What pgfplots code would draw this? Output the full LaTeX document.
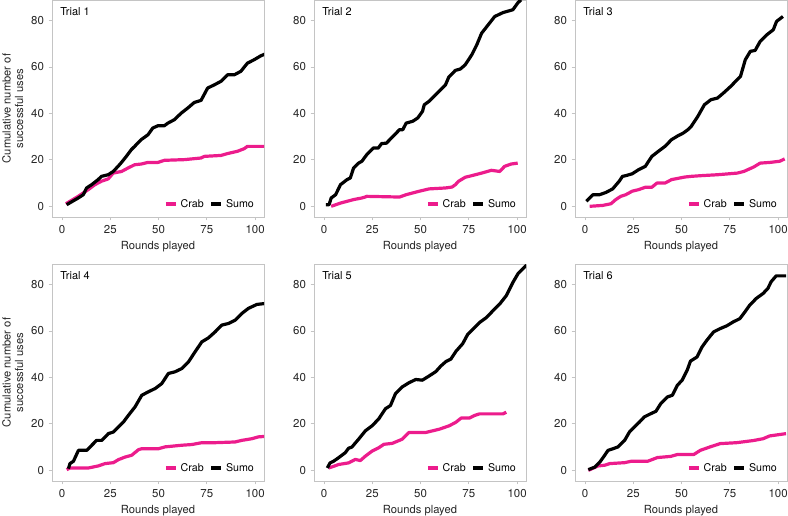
\documentclass[border=0pt]{standalone}
\usepackage{fontspec}
\setmainfont{TeX Gyre Heros}
\usepackage{pgfplots}
\pgfplotsset{compat=1.18}
\definecolor{crab}{HTML}{EC1C8C}
\definecolor{framegray}{HTML}{C4C4C4}

\pgfplotsset{
  panel/.style={
    scale only axis, width=159pt, height=162.75pt,
    xmin=-5.2, xmax=104.6, ymin=-4.6, ymax=88.8,
    xtick={0,25,50,75,100}, ytick={0,20,40,60,80},
    axis line style={framegray, line width=0.6pt},
    tick style={framegray, line width=0.6pt},
    tick align=outside, major tick length=2.5pt,
    xtick pos=bottom, ytick pos=left,
    ticklabel style={font=\fontsize{8.6}{10}\selectfont, text=black!85},
    /pgf/number format/assume math mode=true,
    xlabel={Rounds played},
    xlabel style={font=\fontsize{8.4}{10}\selectfont, text=black!85, yshift=1pt},
    legend style={draw=none, fill=none, at={(rel axis cs:0.985,0.01)}, anchor=south east,
      font=\fontsize{8}{9}\selectfont, legend columns=2,
      /tikz/every even column/.append style={column sep=2pt}},
    legend image code/.code={\draw[#1, line width=3.2pt] (0pt,0pt) -- (7.5pt,0pt);},
    every axis plot/.append style={line width=2.4pt, line join=round, no markers},
  },
  leftpanel/.style={
    ylabel={Cumulative number of\\successful uses},
    ylabel style={align=center, font=\fontsize{8.4}{9.4}\selectfont, text=black!85, yshift=-1pt},
  },
}
\newcommand{\trial}[1]{\node[anchor=north west, inner sep=0pt, font=\fontsize{8.2}{9}\selectfont]
  at (rel axis cs:0,1) [xshift=6pt, yshift=-5.6pt] {#1};}

\begin{document}
\begin{tikzpicture}
\useasboundingbox (0,0) rectangle (591pt,-386.25pt);

% Trial 1
\begin{axis}[panel, leftpanel, at={(39pt,0pt)}, anchor=north west]
\addplot[crab] coordinates {(2,1.1)(8.4,4.3)(13.6,7.2)(17,9.3)(20.4,10.8)(23.9,11.8)(26.5,14.3)(30.8,15)(34.2,16.5)(37.6,17.9)(41,18.2)(44.5,18.9)(49.7,18.9)(53,19.8)(63.4,20.1)(72,20.8)(73.7,21.5)(82.3,21.9)(85.7,22.7)(90.9,23.7)(94.3,24.8)(96,25.8)(105,25.8)};
\addplot[black] coordinates {(2.4,0.7)(8.4,3.6)(11,5)(12.7,7.9)(15.3,9.3)(18.7,11.5)(20.4,12.9)(23.9,13.6)(26.5,15)(29,17.2)(30.8,18.9)(33.3,21.5)(35.9,24.4)(37.6,25.8)(41,28.7)(44.5,30.8)(47,33.7)(49.7,34.7)(53,34.7)(54.8,35.8)(58.2,37.3)(61.7,40.1)(65.1,42.3)(68.5,44.7)(72,45.6)(75.4,50.9)(78.9,52.3)(82.3,53.8)(85.7,56.6)(89.2,56.6)(92.6,58.1)(96,61.6)(99.5,63.1)(103,64.8)(105,65.5)};
\legend{Crab,Sumo}
\trial{Trial 1}
\end{axis}

% Trial 2
\begin{axis}[panel, at={(235.5pt,0pt)}, anchor=north west]
\addplot[crab] coordinates {(3.7,0)(8.5,1.4)(15.3,2.9)(19.6,3.6)(21.3,4)(22.1,4.3)(39.1,4)(42.5,5)(49.3,6.5)(54.4,7.5)(62.9,7.9)(66.3,8.3)(68,9.3)(69.7,10.8)(73.1,12.5)(76.5,13.2)(81.6,14.3)(86.7,15.5)(91,15)(93.5,17.2)(96.9,18.2)(100.3,18.6)};
\addplot[black] coordinates {(0.9,0.7)(2.6,0.7)(3.7,3.6)(6,5)(8.5,9.3)(11.9,11.5)(13.6,12.2)(15.3,16.5)(17.9,18.6)(19.6,19.4)(22.1,22.2)(25.5,25.1)(28.1,25.1)(29.8,27)(32.3,27.2)(34.9,29.4)(39.1,33)(40.8,33)(42.5,35.8)(45.9,36.6)(48.5,38)(51,40.9)(51.9,43.7)(54.4,45.2)(57.8,48)(61.2,50.9)(62.9,52.3)(64.6,55.6)(68,58.5)(70.6,59.1)(73.1,60.9)(76.5,65.2)(79.1,69.5)(81.6,74.5)(85,78.1)(88.4,81.7)(92.7,83.4)(97.8,84.6)(100.3,87.5)(102,88.9)};
\legend{Crab,Sumo}
\trial{Trial 2}
\end{axis}

% Trial 3
\begin{axis}[panel, at={(431.25pt,0pt)}, anchor=north west]
\addplot[crab] coordinates {(2.4,0)(9.2,0.4)(13.4,1.1)(15.9,2.9)(18.5,4.3)(21.1,5)(24.4,6.5)(27.8,7.2)(31.2,8.2)(34.6,8.2)(37.2,10)(41.4,10)(44.8,11.5)(51.6,12.6)(55,12.9)(60.1,13.2)(68.6,13.6)(78.8,14.3)(82.2,15)(87.3,16.9)(90.7,18.6)(95.8,18.9)(100.8,19.4)(103.4,20.4)};
\addplot[black] coordinates {(0.7,2.2)(4.1,5)(7.5,5)(10.9,6)(14.3,7.5)(17.7,10.8)(19.4,12.9)(21.1,13.2)(24.4,14)(27.8,15.8)(31.2,17.2)(34.6,21.5)(38,23.7)(41.4,25.8)(44.8,28.7)(48.2,30.4)(50.8,31.5)(53.3,33)(55,34.4)(58.4,38.7)(61.8,43.7)(65.2,45.9)(68.6,46.6)(72,49)(75.4,51.6)(78.8,54.5)(80.5,55.9)(83,63.1)(85.6,66.7)(88.1,67.1)(90.7,71)(94.1,73.8)(97.5,76)(99.2,79.6)(102.5,81.7)};
\legend{Crab,Sumo}
\trial{Trial 3}
\end{axis}

% Trial 4
\begin{axis}[panel, leftpanel, at={(39pt,-198pt)}, anchor=north west]
\addplot[crab] coordinates {(2.4,0.3)(4.1,1)(13.6,1)(18.8,1.9)(22.3,2.9)(26.6,3.3)(29.2,4.6)(32.6,5.7)(36.1,6.5)(39.6,8.9)(41.3,9.3)(49.9,9.3)(53.4,10.1)(62,10.8)(67.2,11.1)(72.4,11.9)(79.3,11.9)(89.6,12.2)(93.1,12.9)(98.3,13.6)(101.7,14.4)(105,14.6)};
\addplot[black] coordinates {(3.3,0.7)(4.1,2.9)(5.9,3.9)(8.5,8.6)(12.8,8.6)(15.4,10.8)(17.9,12.9)(20.6,12.9)(24,15.8)(26.6,16.5)(29.2,18.7)(31.8,20.8)(34.4,23.7)(37.8,27.3)(41.3,32.3)(44.7,33.8)(48.2,35.2)(51.6,37.3)(55.1,41.7)(58.5,42.4)(62,43.8)(65.5,46.7)(68.9,51)(72.4,55.3)(75.8,57)(79.3,59.6)(82.7,62.5)(86.2,63.2)(89.6,64.6)(93.1,67.5)(96.5,69.7)(100.9,71.4)(105,71.8)};
\legend{Crab,Sumo}
\trial{Trial 4}
\end{axis}

% Trial 5
\begin{axis}[panel, at={(235.5pt,-198pt)}, anchor=north west]
\addplot[crab] coordinates {(2.3,1)(4.9,1.7)(7.5,2.5)(12.7,3.2)(16.2,4.7)(18.8,4.2)(21.4,6.1)(24.9,8.3)(28.3,9.7)(31,11.2)(35.3,11.6)(40.5,13.4)(44,16.3)(52.7,16.3)(59.7,17.7)(64.9,19.2)(68.3,20.7)(71,22.5)(75.3,22.5)(77.9,23.6)(80.5,24.3)(92.7,24.3)(94.4,25)};
\addplot[black] coordinates {(1.7,1)(3.1,3.2)(4.9,3.9)(7.5,5.4)(11,7.6)(12.7,9.5)(14.4,10)(17.9,13.4)(21.4,17)(24.9,19.2)(28.3,22.1)(31.8,26.5)(34.4,27.9)(37,33)(40.5,35.9)(44,37.7)(47.5,39.1)(50.9,38.8)(54.4,40.6)(57.9,42.5)(60.5,44.9)(63.1,46.8)(65.7,47.9)(68.3,51.2)(71.8,54.5)(74.4,58.5)(77,60.7)(80.5,63.6)(84,65.7)(87.5,68.7)(91,71.6)(94.4,75.2)(97.9,81)(100.5,84.7)(104.9,88.3)};
\legend{Crab,Sumo}
\trial{Trial 5}
\end{axis}

% Trial 6
\begin{axis}[panel, at={(431.25pt,-198pt)}, anchor=north west]
\addplot[crab] coordinates {(1.7,0)(6.8,1.9)(10.2,2.2)(12.8,2.9)(20.5,3.3)(23.9,3.9)(32.4,3.9)(37.5,5.5)(44.4,6)(47.8,6.8)(56.3,6.8)(59.7,8.6)(64.8,10.1)(70,11.5)(78.5,11.9)(87,12.8)(92.2,13.6)(95.6,14.8)(100.7,15.4)(104.1,15.8)};
\addplot[black] coordinates {(1.7,0.3)(5.1,1.4)(7.7,3.6)(10.2,6.5)(11.9,8.6)(14.5,9.3)(17.1,10.1)(20.5,12.9)(23,16.5)(25.6,18.7)(28.2,20.8)(30.7,23)(34.1,24.4)(36.7,25.4)(39.2,28.7)(42.7,31.6)(45.2,32.3)(47.8,36.6)(50.3,38.8)(52.9,43.1)(54.6,47)(58,48.8)(60.6,53.1)(63.1,56)(66.6,59.6)(70,61)(73.4,62.2)(76.8,63.9)(80.2,65.3)(82.8,68.2)(85.3,71.1)(88.7,74)(92.2,76.1)(94.7,78.3)(96.4,81.2)(99,83.7)(104.1,83.7)};
\legend{Crab,Sumo}
\trial{Trial 6}
\end{axis}
\end{tikzpicture}
\end{document}
